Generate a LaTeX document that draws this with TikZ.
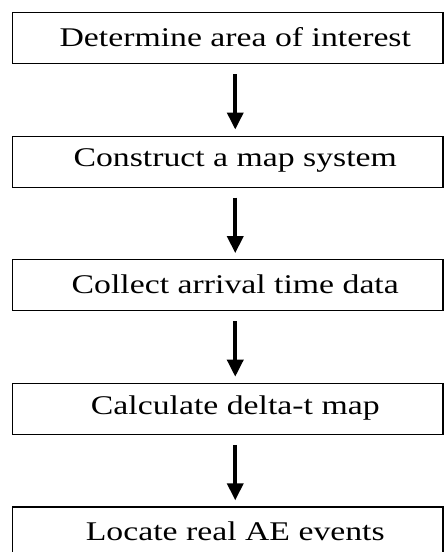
\documentclass[tikz,border=0pt]{standalone}
\usepackage{fontspec}
\setmainfont[FakeStretch=1.25]{Liberation Serif}
\usetikzlibrary{arrows.meta}
\begin{document}
\begin{tikzpicture}[x=1pt,y=1pt,
  stepbox/.style={draw=black, line width=1.2pt, minimum width=430.5pt, minimum height=51pt, inner sep=0pt},
  steptext/.style={font=\fontsize{27}{30}\selectfont, inner sep=0pt},
  flowarrow/.style={line width=3.6pt, -{Triangle[width=16pt,length=17pt]}}]
\clip (0,0) rectangle (445,-552);
\useasboundingbox (0,0) rectangle (445,-552);
\fill[white] (0,0) rectangle (445,-552);
\foreach \i/\t [count=\k] in {0/Determine area of interest, 1/Construct a map system, 2/Collect arrival time data, 3/Calculate delta-t map, 4/Locate real AE events}{
  \node[stepbox] (b\k) at (227.75,{-38-123.6*\i}) {};
  \node[steptext] (t\k) at ([xshift=7.5pt,yshift=1pt]b\k.center) {\t};
}
\foreach \a/\b in {1/2,2/3,3/4,4/5}{
  \draw[flowarrow] ([xshift=7.5pt,yshift=-10pt]b\a.south) -- ([xshift=7.5pt,yshift=6pt]b\b.north);
}
\end{tikzpicture}
\end{document}
